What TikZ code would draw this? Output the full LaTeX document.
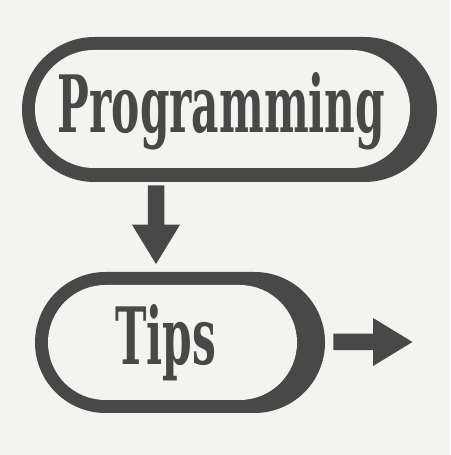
\documentclass[tikz,border=0pt]{standalone}
\usepackage{fontspec}
\setmainfont{DejaVu Serif}
\definecolor{paper}{RGB}{243, 243, 239}
\definecolor{ink}{RGB}{72, 72, 72}
\usetikzlibrary{arrows.meta, calc}

\begin{document}
\begin{tikzpicture}[
    every node/.append style={inner sep=0pt},
  ]

  \tikzset{
    pill-outer/.style={
      rectangle, fill=ink, draw=none,
      rounded corners=#1,
    },
    pill-inner/.style={
      rectangle, fill=paper, draw=none,
      rounded corners=#1,
    },
    title-word/.style={
      text=ink, anchor=base,
      font=\bfseries\fontsize{45}{45}\selectfont,
    },
    block-arrow/.style={
      -{Triangle[length=0.8cm, width=0.9cm]},
      line width=0.33cm, color=ink,
    },
  }

  % page
  \fill[paper] (0, 0) rectangle (9, 9.1);
  \useasboundingbox (0, 0) rectangle (9, 9.1);

  %% ---------------- PROGRAMMING ----------------
  \node[pill-outer=1.45cm, minimum width=8.3cm, minimum height=2.9cm]
    (progbox) at (4.59, 6.91) {};
  \node[pill-inner=1.18cm, minimum width=7.5cm, minimum height=2.36cm]
    (proginner) at (4.45, 6.92) {};
  \node[title-word, xscale=0.535] (prog) at (4.43, 6.44) {Programming};

  %% ---------------- TIPS ----------------
  \node[pill-outer=1.41cm, minimum width=5.8cm, minimum height=2.82cm]
    (tipsbox) at (3.60, 2.25) {};
  \node[pill-inner=1.15cm, minimum width=4.98cm, minimum height=2.3cm]
    (tipsinner) at (3.45, 2.25) {};
  \node[title-word, xscale=0.535] (tips) at (3.31, 1.80) {Tips};

  %% ---------------- ARROWS ----------------
  \coordinate (onward) at (8.26, 2.26);
  % down from programming to tips
  \draw[block-arrow] ($(progbox.south)+(-1.47, -0.06)$)
    -- ($(tipsbox.north)+(-0.48, 0.14)$);
  % out of tips
  \draw[block-arrow] ($(tipsbox.east)+(0.16, 0.01)$) -- (onward);

\end{tikzpicture}
\end{document}
